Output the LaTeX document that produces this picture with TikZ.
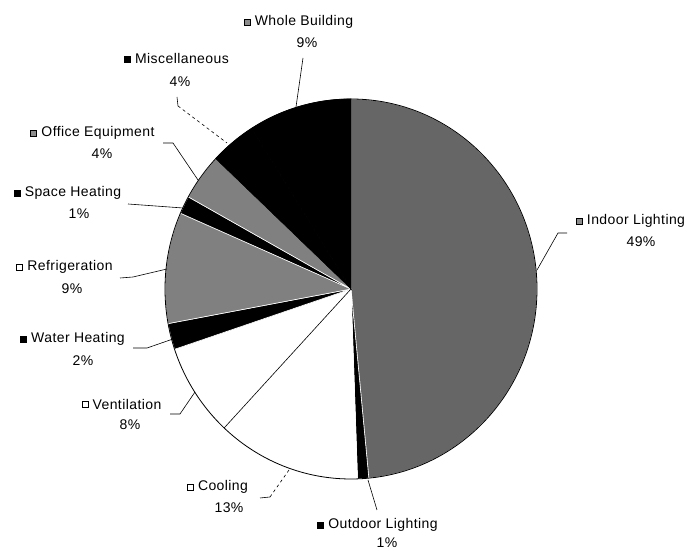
\documentclass[tikz,border=0pt]{standalone}
\usepackage{fontspec}
\setmainfont{Liberation Sans}[LetterSpace=3]
\usetikzlibrary{positioning}

\begin{document}
\begin{tikzpicture}[x=1pt, y=1pt,
    lbl/.style={font=\fontsize{14}{16}\selectfont, inner sep=0pt},
    keybox/.style={draw, line width=0.8pt, minimum size=6pt, inner sep=0pt},
    lead/.style={line width=0.6pt}]
\useasboundingbox (0,0) rectangle (691,551);
\coordinate (pc) at (351,262);
% slices, clockwise from the top
\foreach \a/\b/\c/\e in {90/-84.5/black!60/white, -84.5/-88/black/white, -88/-133/white/white,
    -133/-161.5/white/white, -161.5/-169.5/black/white, -169.5/-203.5/black!50/white,
    156.5/151/black/white, 151/136.7/black!50/white, 136.7/122.3/black/black, 122.3/90/black/black}
    \filldraw[fill=\c, draw=\e, line width=0.6pt] (pc) -- ++(\a:186 and 190)
        arc[start angle=\a, end angle=\b, x radius=186, y radius=190] -- cycle;
\draw[lead] (pc) -- ++(-133:186 and 190);
\draw[line width=0.8pt] (pc) ellipse[x radius=186, y radius=190];

% labels
\node[lbl] (in) at (636,330) {Indoor Lighting};
\node[lbl] (in-p) at (641,309) {49\%};
\node[keybox, fill=black!45, left=4pt of in] (in-k) {};
\node[lbl] (ou) at (383,26) {Outdoor Lighting};
\node[lbl] (ou-p) at (387,8) {1\%};
\node[keybox, fill=black, left=4pt of ou] (ou-k) {};
\node[lbl] (co) at (223,64) {Cooling};
\node[lbl] (co-p) at (229,43) {13\%};
\node[keybox, fill=white, left=4pt of co] (co-k) {};
\node[lbl] (ve) at (127,147) {Ventilation};
\node[lbl] (ve-p) at (130,126) {8\%};
\node[keybox, fill=white, left=4pt of ve] (ve-k) {};
\node[lbl] (wh) at (78,212) {Water Heating};
\node[lbl] (wh-p) at (83,190) {2\%};
\node[keybox, fill=black, left=4pt of wh] (wh-k) {};
\node[lbl] (rf) at (70,284) {Refrigeration};
\node[lbl] (rf-p) at (72,262) {9\%};
\node[keybox, fill=white, left=4pt of rf] (rf-k) {};
\node[lbl] (sh) at (73,358) {Space Heating};
\node[lbl] (sh-p) at (79,337) {1\%};
\node[keybox, fill=black, left=4pt of sh] (sh-k) {};
\node[lbl] (oe) at (98,418) {Office Equipment};
\node[lbl] (oe-p) at (102,397) {4\%};
\node[keybox, fill=black!45, left=4pt of oe] (oe-k) {};
\node[lbl] (mi) at (182,492) {Miscellaneous};
\node[lbl] (mi-p) at (180,469) {4\%};
\node[keybox, fill=black, left=4pt of mi] (mi-k) {};
\node[lbl] (wb) at (304,529) {Whole Building};
\node[lbl] (wb-p) at (307,508) {9\%};
\node[keybox, fill=black!45, left=4pt of wb] (wb-k) {};

% leader lines
\coordinate (in-a) at (558,318);
\coordinate (in-b) at (567,318);
\coordinate (in-e) at (537,281);
\coordinate (ou-a) at (377,41);
\coordinate (ou-e) at (368,71);
\coordinate (co-a) at (260,53);
\coordinate (co-b) at (270,54);
\coordinate (co-e) at (289,81);
\coordinate (ve-a) at (170,137);
\coordinate (ve-b) at (180,137);
\coordinate (ve-e) at (195,159);
\coordinate (wh-a) at (133,203);
\coordinate (wh-b) at (147,203);
\coordinate (wh-e) at (173,212);
\coordinate (rf-a) at (120,273);
\coordinate (rf-b) at (133,274);
\coordinate (rf-e) at (167,282);
\coordinate (sh-a) at (128,347);
\coordinate (sh-e) at (183,343);
\coordinate (oe-a) at (163,408);
\coordinate (oe-b) at (173,408);
\coordinate (oe-e) at (198,371);
\coordinate (mi-a) at (177,454);
\coordinate (mi-b) at (178,445);
\coordinate (mi-e) at (227,408);
\coordinate (wb-a) at (303,493);
\coordinate (wb-e) at (296,444);
\draw[lead] (in-b) -- (in-a) -- (in-e);
\draw[lead] (ou-a) -- (ou-e);
\draw[lead] (co-a) -- (co-b);
\draw[lead, dashed] (co-b) -- (co-e);
\draw[lead] (ve-a) -- (ve-b) -- (ve-e);
\draw[lead] (wh-a) -- (wh-b) -- (wh-e);
\draw[lead] (rf-a) -- (rf-b) -- (rf-e);
\draw[lead] (sh-a) -- (sh-e);
\draw[lead] (oe-a) -- (oe-b) -- (oe-e);
\draw[lead] (mi-a) -- (mi-b);
\draw[lead, dashed] (mi-b) -- (mi-e);
\draw[lead] (wb-a) -- (wb-e);
\end{tikzpicture}
\end{document}
